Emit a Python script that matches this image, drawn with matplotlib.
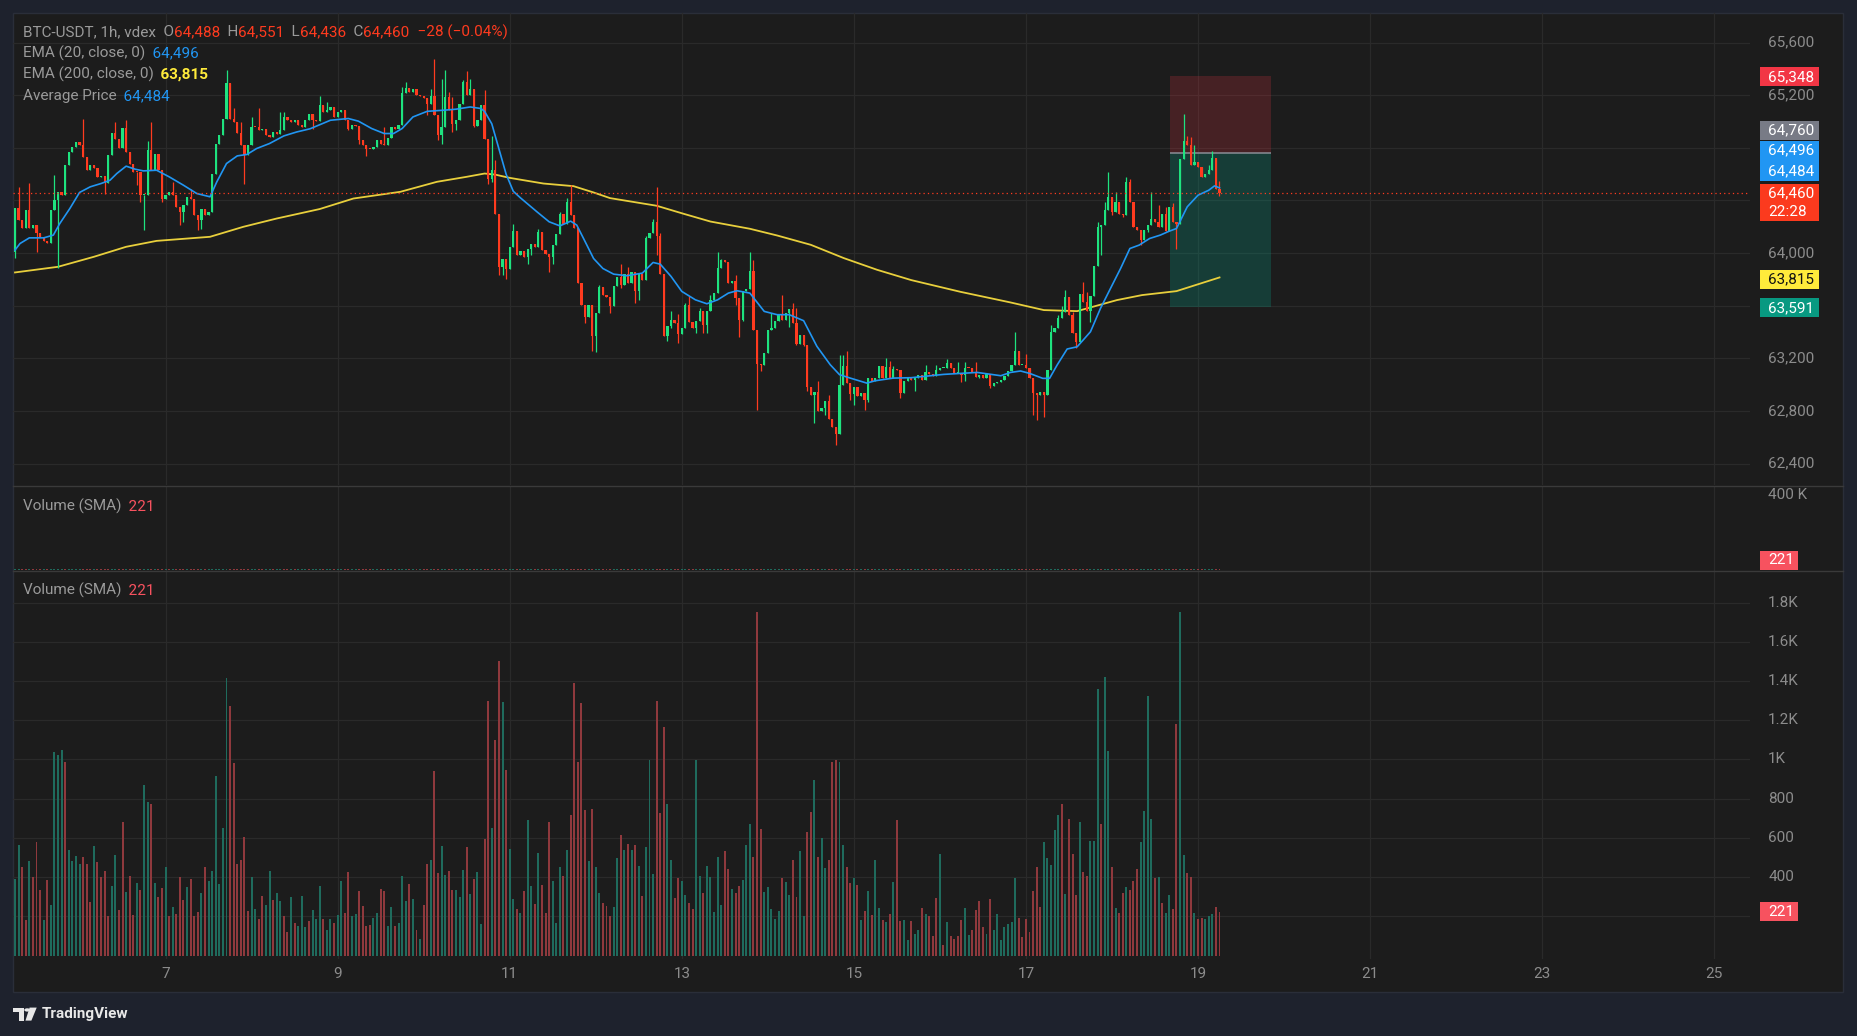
import numpy as np
import matplotlib
matplotlib.use("Agg")
import matplotlib.pyplot as plt
from matplotlib.patches import Rectangle, Polygon, Circle
from matplotlib.transforms import blended_transform_factory

# ---------------------------------------------------------------------
# Data (BTC-USDT 1h, candles from day 5 06:00)
# ---------------------------------------------------------------------
first_open = 64010
closes = [
    64340, 64250, 64190, 64330, 64190, 64210, 64150, 64120, 64090, 64075,
    64330, 64400, 64465, 64440, 64670, 64770, 64810, 64845, 64820, 64730,
    64630, 64670, 64645, 64580, 64585, 64530, 64745, 64910, 64870, 64800,
    64950, 64770, 64680, 64620, 64615, 64440, 64445, 64780, 64630, 64757,
    64630, 64415, 64440, 64466, 64440, 64352, 64314, 64364, 64428, 64415,
    64288, 64250, 64339, 64288, 64314, 64605, 64833, 64896, 65023, 65290,
    65023, 64997, 64910, 64820, 64744, 64820, 64960, 64959, 64934, 64947,
    64896, 64883, 64921, 64909, 64934, 65035, 65010, 64997, 65010, 64972,
    64959, 65010, 65061, 65010, 65003, 65124, 65074, 65086, 65111, 65035,
    65074, 65086, 65010, 64947, 64972, 64967, 64858, 64820, 64795, 64790,
    64808, 64858, 64833, 64820, 64876, 64959, 64947, 64972, 65218, 65256,
    65225, 65250, 65200, 65195, 65180, 65137, 65193, 65048, 64896, 64959,
    65187, 65086, 64985, 65010, 65137, 65301, 65200, 65250, 64965, 65015,
    65124, 64866, 64567, 64630, 64294, 63896, 63959, 63883, 64048, 64167,
    63985, 64015, 63972, 64035, 64066, 64048, 64157, 64023, 63997, 63972,
    64060, 64142, 64301, 64225, 64390, 64288, 64192, 63770, 63605, 63516,
    63605, 63372, 63542, 63744, 63681, 63668, 63600, 63747, 63818, 63755,
    63840, 63772, 63856, 63714, 63840, 63797, 64114, 64152, 64240, 64127,
    63843, 63367, 63443, 63494, 63468, 63387, 63430, 63607, 63476, 63430,
    63481, 63557, 63456, 63557, 63645, 63696, 63886, 63944, 63930, 63772,
    63790, 63658, 63488, 63709, 63730, 63861, 63418, 63159, 63147, 63240,
    63418, 63430, 63486, 63532, 63494, 63544, 63577, 63468, 63311, 63380,
    63304, 62980, 62924, 62944, 62797, 62822, 62873, 62742, 62676, 62625,
    62995, 63139, 63012, 62929, 62980, 62911, 62936, 62886, 63050, 63025,
    63050, 63139, 63050, 63131, 63050, 63121, 63113, 62937, 63030, 63050,
    63036, 63053, 63076, 63036, 63099, 63079, 63068, 63111, 63129, 63129,
    63162, 63129, 63086, 63086, 63073, 63129, 63124, 63099, 63061, 63073,
    63053, 63078, 62992, 63010, 63018, 63036, 63066, 63104, 63149, 63258,
    63149, 63149, 63129, 63048, 62934, 62921, 62947, 62921, 63111, 63402,
    63428, 63504, 63554, 63663, 63529, 63390, 63321, 63693, 63625, 63559,
    63676, 63904, 64200, 64213, 64327, 64428, 64314, 64390, 64301, 64289,
    64537, 64385, 64200, 64175, 64099, 64175, 64213, 64263, 64240, 64200,
    64301, 64167, 64352, 64233, 64218, 64719, 64851, 64820, 64668, 64694,
    64656, 64580, 64605, 64630, 64724, 64488, 64460,
]

# visible wicks (candle index -> extreme price)
wick_hi = {
    1: 64504, 4: 64530, 11: 64590, 19: 65023, 28: 64997, 31: 65010, 37: 64850,
    38: 64997, 44: 64542, 49: 64491, 59: 65390, 61: 65100, 63: 64997, 66: 65035,
    68: 65104, 74: 65073, 75: 65073, 85: 65195, 87: 65150, 103: 64959, 108: 65263,
    109: 65301, 116: 65250, 117: 65478, 119: 65326, 120: 65395, 121: 65225,
    122: 65187, 125: 65314, 126: 65382, 127: 65326, 131: 65238, 133: 64891,
    134: 64706, 139: 64218, 140: 64162, 146: 64180, 152: 64316, 154: 64420,
    155: 64516, 163: 63757, 169: 63919, 171: 63894, 176: 64127, 178: 64258,
    179: 64506, 180: 64152, 183: 63557, 185: 63536, 187: 63620, 188: 63671,
    191: 63582, 194: 63683, 196: 64012, 197: 63955, 199: 63924, 201: 63835,
    205: 64005, 206: 63949, 211: 63544, 214: 63684, 217: 63620, 218: 63582,
    224: 63025, 227: 62924, 230: 63228, 231: 63223, 232: 63258, 243: 63200,
    244: 63180, 245: 63139, 254: 63149, 257: 63149, 260: 63195, 263: 63175,
    265: 63175, 268: 63175, 279: 63397, 282: 63230, 289: 63453, 291: 63529,
    292: 63600, 293: 63719, 295: 63554, 298: 63782, 299: 63701, 301: 63797,
    302: 64238, 304: 64390, 305: 64613, 307: 64466, 310: 64580, 311: 64567,
    317: 64466, 319: 64365, 321: 64347, 323: 64380, 326: 65061, 327: 64891,
    328: 64884, 329: 64820, 333: 64668, 334: 64777, 336: 64551,
}
wick_lo = {
    0: 63960, 6: 64005, 12: 63888, 25: 64453, 34: 64516, 35: 64390, 36: 64175,
    41: 64390, 46: 64212, 47: 64238, 51: 64175, 52: 64187, 64: 64529, 83: 64947,
    93: 64934, 96: 64833, 98: 64739, 115: 65048, 118: 64858, 119: 64833,
    122: 64921, 123: 64934, 128: 64959, 129: 65010, 132: 64529, 133: 64542,
    135: 63833, 136: 63833, 137: 63807, 143: 63914, 144: 63985, 149: 63857,
    150: 63921, 159: 63466, 161: 63255, 162: 63250, 166: 63542, 167: 63605,
    169: 63734, 173: 63620, 174: 63645, 179: 63987, 182: 63329, 183: 63430,
    185: 63316, 190: 63392, 192: 63392, 193: 63392, 201: 63607, 202: 63359,
    203: 63481, 207: 62810, 208: 63101, 209: 63319, 216: 63435, 218: 63303,
    220: 63291, 221: 62949, 223: 62709, 226: 62772, 229: 62544, 233: 62886,
    234: 62843, 237: 62810, 238: 62868, 247: 62900, 251: 62952, 264: 63023,
    265: 63028, 269: 63048, 272: 62978, 283: 63048, 284: 62769, 285: 62731,
    287: 62757, 296: 63276, 300: 63478, 303: 63985, 306: 64289, 309: 64276,
    314: 64060, 316: 64162, 324: 64030, 336: 64436,
}

volumes = [
    390, 564, 449, 183, 483, 398, 580, 336, 183, 386,
    259, 1036, 1022, 1048, 985, 539, 483, 508, 468, 500,
    468, 275, 559, 478, 398, 432, 200, 356, 514, 234,
    683, 325, 407, 208, 371, 336, 870, 783, 773, 371,
    297, 346, 454, 200, 249, 214, 398, 285, 351, 392,
    203, 224, 320, 454, 381, 432, 915, 366, 651, 1414,
    1271, 981, 468, 488, 605, 229, 402, 239, 188, 305,
    259, 432, 285, 320, 280, 203, 122, 300, 168, 153,
    305, 147, 178, 234, 188, 356, 188, 132, 188, 168,
    208, 381, 219, 427, 203, 214, 331, 254, 153, 158,
    193, 219, 341, 331, 153, 249, 153, 168, 407, 280,
    366, 290, 132, 86, 259, 468, 488, 941, 422, 559,
    412, 432, 336, 336, 300, 437, 554, 315, 392, 427,
    163, 595, 1297, 651, 1098, 1500, 1292, 946, 544, 290,
    239, 219, 331, 692, 356, 264, 524, 361, 219, 681,
    381, 168, 453, 407, 539, 717, 1388, 987, 1287, 742,
    483, 748, 453, 320, 270, 254, 203, 249, 498, 615,
    539, 570, 539, 564, 458, 305, 554, 997, 417, 1297,
    727, 1164, 773, 488, 295, 397, 381, 310, 270, 239,
    997, 407, 320, 458, 402, 224, 503, 259, 534, 442,
    341, 320, 356, 386, 564, 671, 503, 1754, 646, 325,
    351, 239, 188, 229, 397, 376, 310, 488, 300, 534,
    203, 631, 732, 895, 503, 600, 447, 488, 987, 997,
    987, 564, 453, 371, 397, 361, 183, 229, 331, 208,
    488, 244, 183, 173, 214, 376, 692, 178, 183, 81,
    178, 112, 132, 244, 214, 203, 97, 295, 519, 56,
    173, 97, 86, 97, 183, 244, 107, 132, 234, 280,
    147, 112, 290, 132, 214, 81, 147, 163, 173, 397,
    193, 92, 188, 122, 331, 453, 249, 580, 498, 463,
    641, 717, 773, 315, 697, 519, 310, 681, 427, 407,
    585, 585, 1358, 671, 1419, 1042, 453, 244, 219, 320,
    351, 336, 381, 442, 580, 737, 1322, 697, 397, 402,
    270, 219, 310, 239, 1180, 1754, 514, 422, 402, 219,
    188, 193, 188, 203, 214, 249, 221,
]
# t = up bar (teal), r = down bar (red)
vol_dir = (
    "ttrrtrrrtr" "ttttrttttr" "rrtrrrrttr" "rtrrtrttrt" "rrtrtrrrtr"
    "rrtrtttttt" "rrrrrrttrr" "ttrttrrtrt" "ttrtttrttr" "ttrrttrrrr"
    "ttrrttrttt" "rtrtrrtrrt" "trrtttrtrt" "trrtrrtrtt" "rtrttrtrrr"
    "tttrtrrrrr" "trttrrrttr" "trtrtrtttr" "rrttrrttrr" "ttrtttttrr"
    "trrtttrrrt" "ttttrttrrt" "trrtrttrrr" "ttrrtrtrtr" "ttrtrtrrtt"
    "rttrtrrrtr" "trrrrttrrr" "rtrttttttt" "rrrrrrrttt" "ttrtrrrtrr"
    "tttrttrtrr" "trrrttttrt" "rttrrttrrt" "rrtttrr"
)

# EMA lines: (candle index, value)
ema20_pts = [
    (0, 64023), (1.4, 64073), (4, 64116), (8, 64116), (10.7, 64137), (12.5, 64225),
    (15.3, 64339), (18, 64461), (21, 64504), (24, 64529), (26.5, 64554), (28.4, 64605),
    (31, 64661), (33.5, 64638), (35.8, 64625), (39.5, 64630), (43, 64580), (47, 64516),
    (50.7, 64453), (54.4, 64428), (56.3, 64542), (59, 64681), (62, 64739), (64.7, 64750),
    (67.4, 64795), (71, 64833), (75, 64891), (78.6, 64921), (82.3, 64945), (88, 65010),
    (93, 65023), (95.8, 65003), (99.5, 64947), (103, 64909), (105.6, 64909), (108, 64947),
    (111, 65035), (115, 65078), (119.5, 65086), (123, 65094), (127, 65111), (130, 65099),
    (131, 65077), (133, 64983), (135, 64792), (137, 64600), (139, 64470), (141, 64420),
    (145.6, 64314), (149, 64238), (152, 64207), (155, 64243), (156.7, 64213), (158.6, 64111),
    (161.4, 63959), (164, 63883), (167, 63840), (170.7, 63828), (175, 63848), (178, 63929),
    (180, 63916), (183, 63823), (186, 63709), (189.8, 63645), (193, 63615), (196, 63645),
    (199, 63696), (201.4, 63714), (205, 63696), (209, 63557), (212.6, 63532), (216, 63532),
    (220, 63486), (223.7, 63291), (227.4, 63152), (230, 63076), (233, 63050), (237.6, 63012),
    (240, 63030), (245, 63050), (250, 63053), (259, 63078), (268.4, 63093), (275, 63068),
    (277.7, 63093), (280.5, 63104), (283, 63086), (286.7, 63048), (288.6, 63048),
    (290.7, 63149), (293.5, 63271), (296.3, 63288), (300, 63402), (302.8, 63580),
    (305.6, 63732), (308.4, 63883), (311, 64035), (313.6, 64061), (316.5, 64111),
    (319.5, 64137), (322, 64167), (324, 64187), (327, 64352), (330, 64440), (333, 64478),
    (334.6, 64511), (336, 64496),
]
ema200_pts = [
    (0, 63853), (12, 63896), (22, 63972), (31, 64048), (39.5, 64093), (54.4, 64124),
    (63.7, 64200), (73, 64263), (85, 64335), (94.4, 64415), (107.5, 64466), (117.7, 64542),
    (126, 64580), (131, 64605), (133.9, 64597), (138, 64572), (147.4, 64529), (155.8, 64509),
    (161.4, 64461), (166, 64418), (179, 64360), (186.5, 64299), (194, 64240), (205, 64185),
    (212.6, 64134), (222, 64063), (231.2, 63962), (240.5, 63873), (250, 63795),
    (263.7, 63706), (277.7, 63625), (287, 63567), (296.3, 63559), (307.4, 63643),
    (314.4, 63681), (324, 63711), (336, 63815),
]

ohlc_last = (64488, 64551, 64436, 64460)
change_text = "\u221228 (\u22120.04%)"
ema20_last, ema200_last, avg_price = 64496, 63815, 64484
volume_last = 221
countdown = "22:28"
# long position tool: take profit, entry, stop
pos_tp, pos_entry, pos_sl = 65348, 64760, 63591
pos_span = (322.3, 350.3)

start_hour = 5 * 24 + 6            # first candle: day 5, 06:00
day_ticks = [7, 9, 11, 13, 15, 17, 19, 21, 23, 25]
price_ticks = [62400, 62800, 63200, 63600, 64000, 64400, 64800, 65200, 65600]
price_labels = {65600: "65,600", 65200: "65,200", 64000: "64,000",
                63200: "63,200", 62800: "62,800", 62400: "62,400"}
vol_ticks = [200, 400, 600, 800, 1000, 1200, 1400, 1600, 1800]
vol_labels = {1800: "1.8K", 1600: "1.6K", 1400: "1.4K", 1200: "1.2K",
              1000: "1K", 800: "800", 600: "600", 400: "400"}

# ---------------------------------------------------------------------
# Style
# ---------------------------------------------------------------------
FRAME = "#1e222d"
PANEL = "#1c1c1c"
GRID = "#2a2a2a"
SEP = "#3a3a3a"
AXTXT = "#8c8c8c"
LEGTXT = "#9a9a9a"
UP = "#1ee37f"
DOWN = "#ff3b1f"
VUP = "#1f6b5d"
VDOWN = "#8f393d"
BLUE = "#2196f3"
YELLOW = "#ffeb3b"
EMA200_C = "#e8cf3c"
FONT = ["Roboto", "DejaVu Sans"]
FS = 11

W, H = 1568, 875   # layout grid of the reference screenshot


def fx(x):
    return x / W


def fy(y):
    return 1 - y / H


fig = plt.figure(figsize=(18.57, 10.36), dpi=100)
fig.patch.set_facecolor(FRAME)
fig.patches.append(Rectangle((fx(11), fy(838)), fx(1556) - fx(11), fy(11) - fy(838),
                             transform=fig.transFigure, facecolor=PANEL,
                             edgecolor="#2a2e39", lw=1, zorder=-10))

PL, PR = fx(11), fx(1478)
ax_p = fig.add_axes([PL, fy(410), PR - PL, fy(11) - fy(410)])
ax_m = fig.add_axes([PL, fy(482), PR - PL, fy(411) - fy(482)])
ax_v = fig.add_axes([PL, fy(810), PR - PL, fy(483) - fy(810)])

x_left, x_right = -0.55, 484.1
for ax in (ax_p, ax_m, ax_v):
    ax.set_facecolor("none")
    ax.set_xlim(x_left, x_right)
    for s in ax.spines.values():
        s.set_visible(False)
    ax.set_xticks([])
    ax.set_yticks([])
    for d in day_ticks:
        ax.axvline(d * 24 - start_hour, color=GRID, lw=0.9, zorder=0)

ax_p.set_ylim(62234, 65825)
ax_m.set_ylim(-6349, 444000)
ax_v.set_ylim(-18, 1957)

for p in price_ticks:
    ax_p.axhline(p, color=GRID, lw=0.9, zorder=0)
for v in vol_ticks:
    ax_v.axhline(v, color=GRID, lw=0.9, zorder=0)

# pane separators
for yy in (410.5, 482.5):
    fig.add_artist(plt.Line2D([fx(11), fx(1556)], [fy(yy), fy(yy)],
                              color=SEP, lw=1.0, transform=fig.transFigure))

# ---------------------------------------------------------------------
# Candles
# ---------------------------------------------------------------------
closes_a = np.array(closes, dtype=float)
opens_a = np.r_[first_open, closes_a[:-1]]
idx = np.arange(len(closes_a))
body_lo = np.minimum(opens_a, closes_a)
body_hi = np.maximum(opens_a, closes_a)
highs = body_hi.copy()
lows = body_lo.copy()
for i, v in wick_hi.items():
    highs[i] = max(highs[i], v)
for i, v in wick_lo.items():
    lows[i] = min(lows[i], v)
cols = np.where(closes_a >= opens_a, UP, DOWN)

# position tool (behind candles)
ax_p.add_patch(Rectangle((pos_span[0], pos_entry), pos_span[1] - pos_span[0],
                         pos_tp - pos_entry, facecolor="#f23645", alpha=0.2,
                         lw=0, zorder=1))
ax_p.add_patch(Rectangle((pos_span[0], pos_sl), pos_span[1] - pos_span[0],
                         pos_entry - pos_sl, facecolor="#089981", alpha=0.27,
                         lw=0, zorder=1))
ax_p.hlines(pos_entry, pos_span[0], pos_span[1], color="#8a8d96", lw=1.1, zorder=2)

ax_p.plot([p[0] for p in ema200_pts], [p[1] for p in ema200_pts],
          color=EMA200_C, lw=1.3, zorder=3, solid_joinstyle="round")
ax_p.vlines(idx, lows, highs, colors=cols, lw=0.9, zorder=4)
ax_p.bar(idx, np.maximum(body_hi - body_lo, 9), bottom=body_lo, width=0.62,
         color=cols, linewidth=0, zorder=5)
ax_p.plot([p[0] for p in ema20_pts], [p[1] for p in ema20_pts],
          color=BLUE, lw=1.2, zorder=6, solid_joinstyle="round")
ax_p.axhline(ohlc_last[3], color=DOWN, lw=0.9, ls=(0, (1, 2.5)), zorder=6)

# ---------------------------------------------------------------------
# Volume panes
# ---------------------------------------------------------------------
vcols = [VUP if c == "t" else VDOWN for c in vol_dir]
ax_v.bar(idx, volumes, width=0.55, color=vcols, linewidth=0, zorder=2)
ax_m.bar(idx, volumes, width=0.55, color=vcols, linewidth=0, zorder=2)

# ---------------------------------------------------------------------
# Axis labels (right scale and time scale)
# ---------------------------------------------------------------------
LX = fx(1493)
tp = blended_transform_factory(fig.transFigure, ax_p.transData)
for p, s in price_labels.items():
    fig.text(LX, p, s, transform=tp, color=AXTXT, fontsize=FS, fontfamily=FONT,
             ha="left", va="center")
tv = blended_transform_factory(fig.transFigure, ax_v.transData)
for v, s in vol_labels.items():
    fig.text(LX, v, s, transform=tv, color=AXTXT, fontsize=FS, fontfamily=FONT,
             ha="left", va="center")
fig.text(LX, fy(418), "400 K", color=AXTXT, fontsize=FS, fontfamily=FONT,
         ha="left", va="center")

tx = blended_transform_factory(ax_v.transData, fig.transFigure)
for d in day_ticks:
    fig.text(d * 24 - start_hour, fy(823), str(d), transform=tx, color=AXTXT,
             fontsize=FS, fontfamily=FONT, ha="center", va="center")

# badges on the price scale: (lines, line y px, box color, text color, top, bottom, right)
badges = [
    ([f"{pos_tp:,}"], [65], "#f23645", "white", 57, 73, 1536),
    ([f"{pos_entry:,}"], [110], "#787b86", "white", 102, 118, 1536),
    ([f"{ema20_last:,}", f"{avg_price:,}"], [127, 145], BLUE, "white", 119, 153, 1536),
    ([f"{ohlc_last[3]:,}", countdown], [163, 179], "#fb3a1e", "white", 155, 187, 1536),
    ([f"{ema200_last:,}"], [236], YELLOW, "#131313", 228, 244, 1536),
    ([f"{pos_sl:,}"], [260], "#089981", "white", 252, 268, 1536),
    ([str(volume_last)], [473], "#f7525f", "white", 465, 481, 1518),
    ([str(volume_last)], [770], "#f7525f", "white", 762, 778, 1518),
]
for lines, ys, bc, tc, top, bot, right in badges:
    fig.patches.append(Rectangle((fx(1486), fy(bot)), fx(right) - fx(1486),
                                 fy(top) - fy(bot), transform=fig.transFigure,
                                 facecolor=bc, lw=0, zorder=3))
    for s, yy in zip(lines, ys):
        fig.text(LX, fy(yy), s, color=tc, fontsize=FS, fontfamily=FONT,
                 ha="left", va="center", zorder=4)

# ---------------------------------------------------------------------
# Legends (top-left of each pane)
# ---------------------------------------------------------------------
renderer = fig.canvas.get_renderer()


def text_row(x, y, pieces):
    for piece in pieces:
        s, c = piece[0], piece[1]
        weight = piece[2] if len(piece) > 2 else "normal"
        t = fig.text(x, y, s, color=c, fontsize=FS, fontfamily=FONT,
                     fontweight=weight, ha="left", va="center")
        bb = t.get_window_extent(renderer=renderer)
        x = fig.transFigure.inverted().transform((bb.x1, bb.y0))[0]


o, h, l, c = ohlc_last
text_row(fx(19), fy(27), [
    ("BTC-USDT, 1h, vdex", LEGTXT), ("  O", LEGTXT), (f"{o:,}", DOWN),
    ("  H", LEGTXT), (f"{h:,}", DOWN), ("  L", LEGTXT), (f"{l:,}", DOWN),
    ("  C", LEGTXT), (f"{c:,}", DOWN), ("  " + change_text, DOWN)])
text_row(fx(19), fy(45), [("EMA (20, close, 0)", LEGTXT), ("  " + f"{ema20_last:,}", BLUE)])
text_row(fx(19), fy(63), [("EMA (200, close, 0)", LEGTXT),
                          ("  " + f"{ema200_last:,}", YELLOW, "bold")])
text_row(fx(19), fy(81), [("Average Price", LEGTXT), ("  " + f"{avg_price:,}", BLUE)])
text_row(fx(19), fy(428), [("Volume (SMA)", LEGTXT), ("  " + str(volume_last), "#f7525f")])
text_row(fx(19), fy(499), [("Volume (SMA)", LEGTXT), ("  " + str(volume_last), "#f7525f")])

# TradingView mark
logo = [
    Polygon([(fx(11), fy(851)), (fx(20), fy(851)), (fx(20), fy(862)), (fx(16), fy(862)),
             (fx(16), fy(855)), (fx(11), fy(855))], closed=True),
    Circle((fx(23), fy(853)), 0.0016),
    Polygon([(fx(25), fy(851)), (fx(31), fy(851)), (fx(26.5), fy(862)),
             (fx(21.5), fy(862))], closed=True),
]
for patch in logo:
    patch.set_transform(fig.transFigure)
    patch.set_facecolor("#e8e8e8")
    patch.set_edgecolor("none")
    fig.patches.append(patch)
fig.text(fx(35), fy(856.5), "TradingView", color="#e8e8e8", fontsize=FS,
         fontweight="bold", fontfamily=FONT, ha="left", va="center")

fig.savefig("out.png", dpi=100, facecolor=fig.get_facecolor())
